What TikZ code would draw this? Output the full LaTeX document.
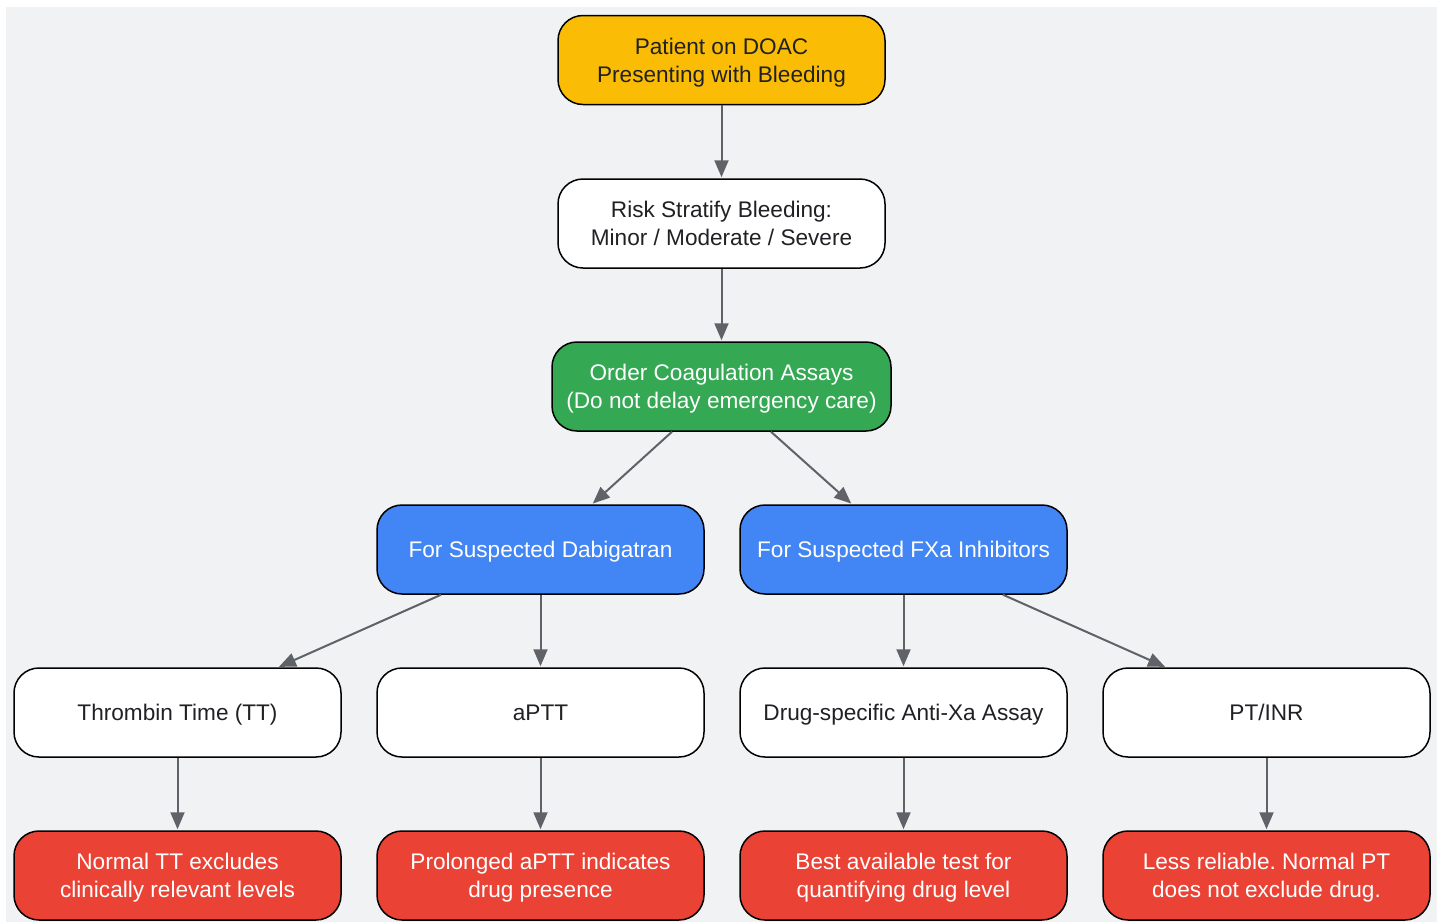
\documentclass[tikz,border=0pt]{standalone}
\usepackage{fontspec}
\setmainfont{Liberation Sans}
\usetikzlibrary{arrows.meta,calc}
\frenchspacing
\definecolor{bg}{HTML}{F1F2F4}
\definecolor{yel}{HTML}{FBBC05}
\definecolor{grn}{HTML}{34A853}
\definecolor{blu}{HTML}{4285F4}
\definecolor{rd}{HTML}{EA4335}
\definecolor{txt}{HTML}{202124}
\definecolor{arr}{HTML}{5F6368}
\newcommand{\twoln}[2]{\begin{tabular}[t]{@{}c@{}}#1\\#2\end{tabular}}
\tikzset{
  box/.style={draw=black, line width=1.5pt, rounded corners=25pt, minimum width=327pt, minimum height=89pt, inner sep=0pt, font=\fontsize{22.6pt}{28pt}\selectfont, text=txt, text height=16.2pt, text depth=0pt},
  two/.style={text height=16.2pt, text depth=28pt},
  wbox/.style={box, fill=white},
  ybox/.style={box, fill=yel},
  gbox/.style={box, fill=grn, text=white, minimum width=339pt},
  bbox/.style={box, fill=blu, text=white},
  rbox/.style={box, fill=rd, text=white},
  conn/.style={draw=arr, line width=2pt, -{Triangle[length=17pt,width=14pt]}, shorten >=1pt}
}
\begin{document}
\begin{tikzpicture}[x=1pt,y=-1pt]
\useasboundingbox (0,0) rectangle (1443,922);
\fill[bg] (6,7) rectangle (1437,922);
\node[ybox,two] (start) at (721.5,60) {\twoln{Patient on DOAC}{Presenting with Bleeding}};
\node[wbox,two] (risk) at (721.5,223.5) {\twoln{Risk Stratify Bleeding:}{Minor / Moderate / Severe}};
\node[gbox,two] (order) at (721.5,386.5) {\twoln{Order Coagulation Assays}{(Do not delay emergency care)}};
\node[bbox] (dab) at (540.5,549.5) {For Suspected Dabigatran};
\node[bbox] (fxa) at (903.5,549.5) {For Suspected FXa Inhibitors};
\node[wbox] (tt) at (177.5,712.5) {Thrombin Time (TT)};
\node[wbox] (aptt) at (540.5,712.5) {aPTT};
\node[wbox] (axa) at (903.5,712.5) {Drug-specific Anti-Xa Assay};
\node[wbox] (pt) at (1266.5,712.5) {PT/INR};
\node[rbox,two] (r1) at (177.5,875.5) {\twoln{Normal TT excludes}{clinically relevant levels}};
\node[rbox,two] (r2) at (540.5,875.5) {\twoln{Prolonged aPTT indicates}{drug presence}};
\node[rbox,two] (r3) at (903.5,875.5) {\twoln{Best available test for}{quantifying drug level}};
\node[rbox,two] (r4) at (1266.5,875.5) {\twoln{Less reliable. Normal PT}{does not exclude drug.}};
\draw[conn] (start) -- (risk);
\draw[conn] (risk) -- (order);
\draw[conn] ($(order.south)+(-49.5,0)$) -- ($(dab.north)+(51.5,0)$);
\draw[conn] ($(order.south)+(49.5,0)$) -- ($(fxa.north)+(-51.5,0)$);
\draw[conn] ($(dab.south)+(-99.5,0)$) -- ($(tt.north)+(100.5,0)$);
\draw[conn] (dab) -- (aptt);
\draw[conn] (fxa) -- (axa);
\draw[conn] ($(fxa.south)+(99.5,0)$) -- ($(pt.north)+(-100.5,0)$);
\draw[conn] (tt) -- (r1);
\draw[conn] (aptt) -- (r2);
\draw[conn] (axa) -- (r3);
\draw[conn] (pt) -- (r4);
\end{tikzpicture}
\end{document}
